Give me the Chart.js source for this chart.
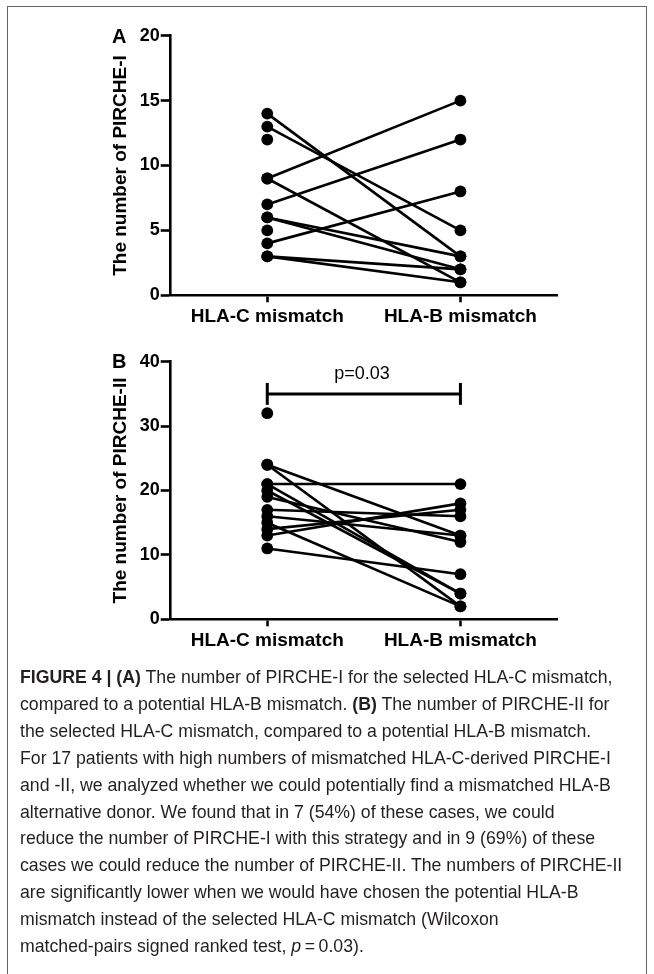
<!DOCTYPE html>
<html><head><meta charset="utf-8">
<script src="https://cdn.jsdelivr.net/npm/chart.js@4/dist/chart.umd.min.js"></script>
<style>
html,body{margin:0;padding:0;background:#fff;}
body{width:654px;height:974px;position:relative;overflow:hidden;font-family:"Liberation Sans",Arial,sans-serif;}
#frame{position:absolute;left:7px;top:6px;width:638px;height:1000px;border:1px solid #666;}
canvas{position:absolute;left:0;}
.lbl{position:absolute;font-weight:bold;font-size:20px;line-height:20px;color:#000;}
#pval{position:absolute;font-size:18px;line-height:18px;color:#000;width:120px;text-align:center;}
#caption{position:absolute;left:20px;top:664px;font-size:17.7px;line-height:26.9px;color:#231f20;white-space:nowrap;}
</style></head><body>
<div id="frame"></div>
<canvas id="cA" width="654" height="340" style="top:0"></canvas>
<canvas id="cB" width="654" height="340" style="top:340px"></canvas>
<div class="lbl" style="left:112px;top:26px">A</div>
<div class="lbl" style="left:112px;top:351px">B</div>
<div id="pval" style="left:302px;top:364px">p=0.03</div>
<div id="caption"><b>FIGURE 4 | (A)</b> The number of PIRCHE-I for the selected HLA-C mismatch,<br>compared to a potential HLA-B mismatch. <b>(B)</b> The number of PIRCHE-II for<br>the selected HLA-C mismatch, compared to a potential HLA-B mismatch.<br>For 17 patients with high numbers of mismatched HLA-C-derived PIRCHE-I<br>and -II, we analyzed whether we could potentially find a mismatched HLA-B<br>alternative donor. We found that in 7 (54%) of these cases, we could<br>reduce the number of PIRCHE-I with this strategy and in 9 (69%) of these<br>cases we could reduce the number of PIRCHE-II. The numbers of PIRCHE-II<br>are significantly lower when we would have chosen the potential HLA-B<br>mismatch instead of the selected HLA-C mismatch (Wilcoxon<br>matched-pairs signed ranked test, <i>p</i>&thinsp;=&thinsp;0.03).</div>
<script>
// ---- data ----
const categories = ['HLA-C mismatch', 'HLA-B mismatch'];
// Panel A: PIRCHE-I, paired values (HLA-C -> HLA-B)
const pircheI_C = [14, 13, 9, 9, 7, 6, 6, 4, 3, 3];
const pircheI_B = [3, 5, 15, 1, 12, 3, 2, 8, 2, 1];
const pircheI_unpairedC = [12, 5];
const ticksA = [0, 5, 10, 15, 20];
// Panel B: PIRCHE-II, paired values (HLA-C -> HLA-B)
const pircheII_C = [24, 24, 21, 21, 20, 19, 17, 16, 15, 14, 13, 11];
const pircheII_B = [13, 2, 21, 4, 4, 12, 16, 13, 2, 17, 18, 7];
const pircheII_unpairedC = [32];
const ticksB = [0, 10, 20, 30, 40];
const bracketB = 35;       // significance bracket level
const bracketCap = 1.7;    // half height of bracket caps

const FONT = '"Liberation Sans", Arial, sans-serif';

function pairDatasets(C, B, unpaired) {
  const ds = C.map((c, i) => ({
    data: [{x: categories[0], y: c}, {x: categories[1], y: B[i]}],
    borderColor: '#000', backgroundColor: '#000',
    borderWidth: 2.6, pointRadius: 5.9, pointHoverRadius: 5.9,
    pointBorderWidth: 0, showLine: true, clip: false
  }));
  ds.push({
    data: unpaired.map(v => ({x: categories[0], y: v})),
    borderColor: '#000', backgroundColor: '#000',
    pointRadius: 5.9, pointBorderWidth: 0, showLine: false, clip: false
  });
  return ds;
}

function makeChart(id, datasets, ticks, title, pad, xH) {
  const maxV = ticks[ticks.length - 1];
  return new Chart(document.getElementById(id), {
    type: 'line',
    data: { labels: categories, datasets },
    options: {
      responsive: false, animation: false, devicePixelRatio: 1,
      layout: { padding: pad },
      plugins: { legend: { display: false }, tooltip: { enabled: false } },
      scales: {
        x: {
          type: 'category', offset: true,
          grid: { drawOnChartArea: false, drawTicks: true, tickLength: 7, tickWidth: 2.6, tickColor: '#000', offset: false },
          border: { display: true, width: 2.6, color: '#000' },
          ticks: { color: '#000', padding: 3, maxRotation: 0, font: { family: FONT, size: 19, weight: 'bold' } },
          afterFit: s => { s.height = xH; }
        },
        y: {
          min: 0, max: maxV,
          afterBuildTicks: s => { s.ticks = ticks.map(v => ({ value: v })); },
          grid: { drawOnChartArea: false, drawTicks: true, tickLength: 10, tickWidth: 2.6, tickColor: '#000' },
          border: { display: true, width: 2.6, color: '#000' },
          ticks: { color: '#000', padding: 1, font: { family: FONT, size: 18, weight: 'bold' } },
          title: { display: true, text: title, color: '#000', padding: { top: 0, bottom: 0 }, font: { family: FONT, size: 19, weight: 'bold' } },
          afterFit: s => { s.width = 61.1; }
        }
      }
    }
  });
}

makeChart('cA', pairDatasets(pircheI_C, pircheI_B, pircheI_unpairedC), ticksA,
  'The number of PIRCHE-I', { left: 109.6, right: 97, top: 35.7, bottom: 0 }, 44.7);

const dsB = pairDatasets(pircheII_C, pircheII_B, pircheII_unpairedC);
const bracketStyle = { borderColor: '#000', borderWidth: 3, pointRadius: 0, showLine: true, clip: false };
const [cC, cBm] = categories;
dsB.push(Object.assign({ data: [{x: cC, y: bracketB}, {x: cBm, y: bracketB}] }, bracketStyle));
dsB.push(Object.assign({ data: [{x: cC, y: bracketB - bracketCap}, {x: cC, y: bracketB + bracketCap}] }, bracketStyle));
dsB.push(Object.assign({ data: [{x: cBm, y: bracketB - bracketCap}, {x: cBm, y: bracketB + bracketCap}] }, bracketStyle));
makeChart('cB', dsB, ticksB,
  'The number of PIRCHE-II', { left: 109.6, right: 97, top: 21.7, bottom: 0 }, 60.7);
</script>
</body></html>
